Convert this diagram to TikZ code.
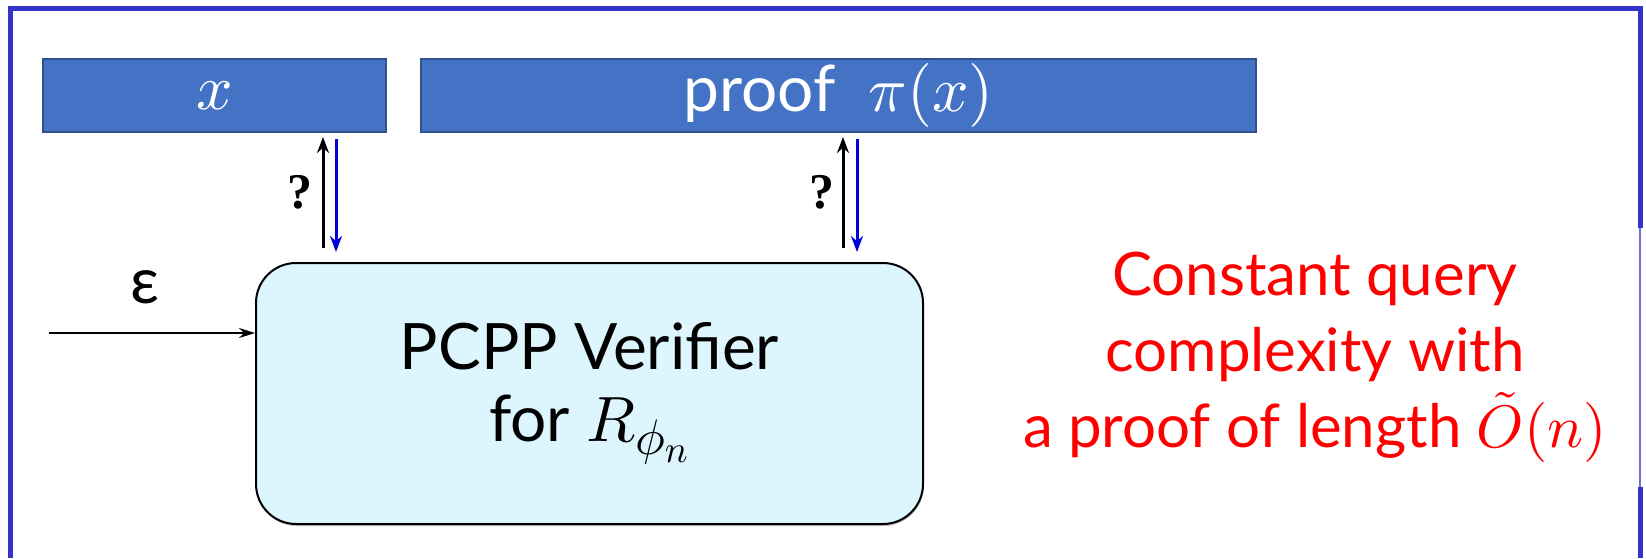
\documentclass[tikz,border=0pt]{standalone}
\DeclareFontShape{OML}{cmm}{m}{it}{<->cmmi10}{}
\DeclareFontShape{OMS}{cmsy}{m}{n}{<->cmsy10}{}
\DeclareFontShape{OT1}{cmr}{m}{n}{<->cmr10}{}
\DeclareFontShape{OMX}{cmex}{m}{n}{<->cmex10}{}
\DeclareMathSizes{32}{32}{25}{19}
\usepackage{fontspec}
\setmainfont{Lato}
\newfontfamily\qfont{Liberation Serif}
\usetikzlibrary{positioning,arrows.meta,shadows}

\definecolor{tapeblue}{RGB}{68,114,196}
\definecolor{tapeedge}{RGB}{47,82,143}
\definecolor{verfill}{RGB}{221,245,252}
\definecolor{framblue}{RGB}{51,51,204}

\begin{document}
\begin{tikzpicture}[
    x=0.5pt, y=-0.5pt,
    every node/.style={font=\fontsize{32}{36}\selectfont},
    tape/.style={draw=tapeedge, fill=tapeblue, line width=1pt, text=white,
                 minimum height=36.5pt, anchor=north west, inner sep=0pt},
    verbox/.style={draw, fill=verfill, line width=1pt, rounded corners=20pt,
                   minimum width=333.5pt, minimum height=130.5pt,
                   anchor=north west, align=center,
                   drop shadow={shadow xshift=0.4pt, shadow yshift=-1pt,
                                opacity=0.5}},
    ask/.style ={-{Stealth[length=8pt,width=6pt]}, line width=1.5pt},
    ans/.style ={-{Stealth[length=8pt,width=6pt]}, line width=1.5pt,
                 draw=blue!85!black},
    feed/.style={-{Stealth[length=8pt,width=5pt]}, line width=1pt},
    qmark/.style={font=\qfont\bfseries\fontsize{25}{28}\selectfont},
    note/.style={text=red, align=center,
                 font=\fontsize{30}{36}\selectfont}
  ]
  \useasboundingbox (0,0) rectangle (1646,558);
  % frame
  \draw[framblue, line width=2.5pt] (10,558) -- (10,8) -- (1640,8) -- (1640,228);
  \draw[framblue, line width=2.5pt] (1640,487) -- (1640,558);
  \draw[framblue!70, line width=0.8pt] (1640,228) -- (1640,487);

  \node[tape, minimum width=171.5pt] (inp) at (42,58) {$x$};
  \node[tape, minimum width=417.5pt] (prf) at (420,58) {proof \ $\pi(x)$};
  \node[verbox] (ver) at (255,262) {PCPP Verifier\\for $R_{\phi_n}$};

  % queries
  \coordinate (q1) at (323,0);
  \coordinate (a1) at (336,0);
  \coordinate (q2) at (843,0);
  \coordinate (a2) at (857,0);
  \draw[ask, shorten <=7pt, shorten >=2pt] (ver.north -| q1) -- (inp.south -| q1);
  \draw[ans, shorten <=3pt, shorten >=5pt] (inp.south -| a1) -- (ver.north -| a1);
  \draw[ask, shorten <=7pt, shorten >=2pt] (ver.north -| q2) -- (prf.south -| q2);
  \draw[ans, shorten <=3pt, shorten >=5pt] (prf.south -| a2) -- (ver.north -| a2);
  \node[qmark] (qm1) at (300,192) {?};
  \node[qmark] (qm2) at (822,192) {?};

  % error parameter
  \coordinate (ein) at (49,333);
  \draw[feed] (ein) -- (ein -| ver.west);
  \node (eps) at (145,287) {ε};

  \node[note] (txt) at (1315,357) {Constant query\\[2pt]complexity with\\[2pt]a proof of length $\tilde{O}(n)$};
\end{tikzpicture}
\end{document}
